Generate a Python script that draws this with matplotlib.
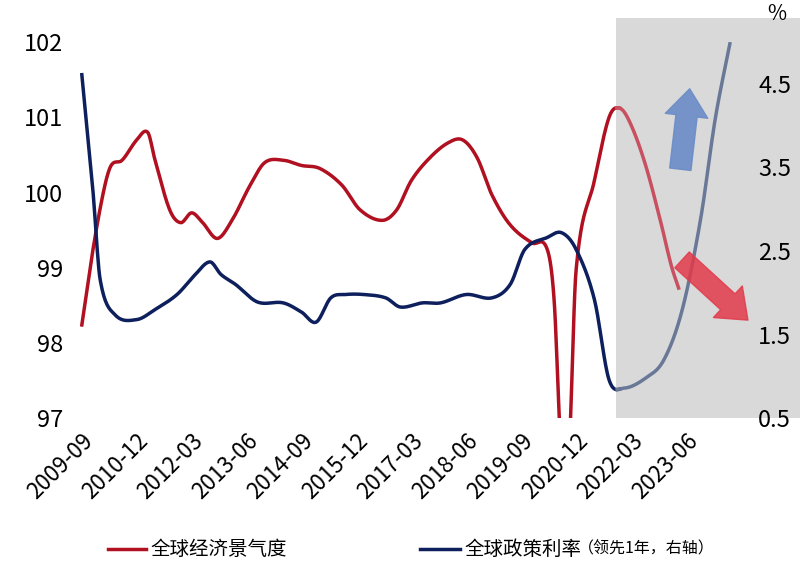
import matplotlib
matplotlib.use("Agg")
import matplotlib.pyplot as plt
from matplotlib.patches import Rectangle
import numpy as np

plt.rcParams['font.family'] = ['Noto Sans CJK SC', 'DejaVu Sans']

red_dates = ["2009-09","2009-12","2010-03","2010-05","2010-08","2010-12","2011-03","2011-05","2011-09","2011-12",
             "2012-03","2012-06","2012-10","2013-02","2013-07","2013-11","2014-04","2014-09","2015-02","2015-08",
             "2016-01","2016-07","2016-11","2017-03","2017-08","2018-01","2018-05","2018-09","2019-01","2019-06",
             "2019-12","2020-04","2020-06","2020-08","2020-10","2020-12","2021-05","2021-09","2021-12","2022-03",
             "2022-07","2022-11","2023-02","2023-04"]
red_vals = [98.24,99.23,100.03,100.36,100.43,100.7,100.8,100.43,99.77,99.6,
            99.73,99.6,99.39,99.63,100.1,100.4,100.43,100.36,100.32,100.1,
            99.77,99.63,99.77,100.16,100.46,100.66,100.7,100.46,99.97,99.57,
            99.33,99.26,98.57,96.5,96.5,98.97,100.16,101.0,101.12,100.9,
            100.36,99.63,99.03,98.73]
blue_dates = ["2009-09","2009-12","2010-02","2010-06","2010-12","2011-05","2011-11","2012-04","2012-08","2012-11",
              "2013-03","2013-09","2014-04","2014-09","2015-01","2015-05","2015-09","2016-02","2016-08","2016-12",
              "2017-06","2017-11","2018-06","2019-01","2019-06","2019-10","2020-04","2020-08","2020-12","2021-05",
              "2021-09","2022-01","2022-07","2022-12","2023-05","2023-10","2024-02","2024-06"]
blue_vals = [4.61,3.24,2.16,1.74,1.68,1.80,1.98,2.22,2.37,2.22,
             2.10,1.89,1.88,1.77,1.65,1.94,1.98,1.98,1.94,1.83,
             1.88,1.88,1.98,1.94,2.10,2.52,2.66,2.72,2.52,1.92,
             0.96,0.86,0.98,1.20,1.80,2.88,4.08,4.98]
tick_labels = ["2009-09","2010-12","2012-03","2013-06","2014-09","2015-12","2017-03","2018-06","2019-09","2020-12","2022-03","2023-06"]
shade_start = "2021-11"

def midx(s):
    y, m = map(int, s.split("-"))
    return (y - 2009) * 12 + (m - 9)

def smooth(dates, vals):
    x = np.array([midx(d) for d in dates], float)
    v = np.array(vals, float)
    xs = np.linspace(x[0], x[-1], 800)
    n = len(x)
    m = np.zeros(n)
    for i in range(n):
        if i == 0: m[i] = (v[1]-v[0])/(x[1]-x[0])
        elif i == n-1: m[i] = (v[-1]-v[-2])/(x[-1]-x[-2])
        else: m[i] = (v[i+1]-v[i-1])/(x[i+1]-x[i-1])
    ys = np.empty_like(xs)
    for j, t in enumerate(xs):
        i = min(np.searchsorted(x, t, side='right') - 1, n-2)
        h = x[i+1]-x[i]; u = (t-x[i])/h
        h00 = 2*u**3-3*u**2+1; h10 = u**3-2*u**2+u; h01 = -2*u**3+3*u**2; h11 = u**3-u**2
        ys[j] = h00*v[i]+h10*h*m[i]+h01*v[i+1]+h11*h*m[i+1]
    return xs, ys

fig = plt.figure(figsize=(8, 5.69), dpi=100)
ax = fig.add_axes([0.1, 0.265, 0.8375, 0.661])
ax2 = ax.twinx()
xs0 = midx(shade_start)
ax.add_patch(Rectangle((xs0, 0), 200, 1.065, transform=ax.get_xaxis_transform(),
                       facecolor='#d9d9d9', edgecolor='none', clip_on=False, zorder=0))

rx, ry = smooth(red_dates, red_vals)
bx, by = smooth(blue_dates, blue_vals)
ax.plot(rx[rx <= xs0+1], ry[rx <= xs0+1], color='#b01020', lw=2.5)
ax.plot(rx[rx >= xs0], ry[rx >= xs0], color='#c85060', lw=2.5)
ax2.plot(bx[bx <= xs0+1], by[bx <= xs0+1], color='#0d1f5c', lw=2.5)
ax2.plot(bx[bx >= xs0], by[bx >= xs0], color='#6a7898', lw=2.5)

ax.set_xlim(-0.5, 182.5)
ax.set_ylim(97, 102)
ax2.set_ylim(0.5, 5.0)
ax.set_yticks([97, 98, 99, 100, 101, 102])
ax2.set_yticks([0.5, 1.5, 2.5, 3.5, 4.5])
ax.set_xticks([midx(t) for t in tick_labels])
ax.set_xticklabels(tick_labels, rotation=45, ha='right', rotation_mode='anchor', fontsize=16)
ax.tick_params(axis='y', labelsize=17, length=0, pad=12)
ax2.tick_params(axis='y', labelsize=17, length=0, pad=6)
ax.tick_params(axis='x', length=0, pad=8)
for a in (ax, ax2):
    for s in a.spines.values():
        s.set_visible(False)
ax.patch.set_visible(False)
ax2.text(1.04, 1.06, "%", transform=ax2.transAxes, fontsize=15, ha='center')

# decorative arrows (figure pixels, origin bottom-left)
H = 569
fig.add_artist(matplotlib.patches.FancyArrowPatch((680, H-172), (690, H-86), transform=None,
               arrowstyle='simple,head_width=2.2,head_length=1.4,tail_width=1.1', mutation_scale=14,
               color='#6a8cc8', alpha=0.9))
fig.add_artist(matplotlib.patches.FancyArrowPatch((680, H-258), (750, H-322), transform=None,
               arrowstyle='simple,head_width=2.2,head_length=1.4,tail_width=1.1', mutation_scale=14,
               color='#e23a4a', alpha=0.85))

# legend
fig.add_artist(plt.Line2D([0.135, 0.182], [0.035, 0.035], color='#b01020', lw=2.5))
fig.text(0.188, 0.035, "全球经济景气度", fontsize=14, va='center')
fig.add_artist(plt.Line2D([0.525, 0.575], [0.035, 0.035], color='#0d1f5c', lw=2.5))
fig.text(0.58, 0.035, "全球政策利率", fontsize=14, va='center')
fig.text(0.722, 0.035, "（领先1年，右轴）", fontsize=11.5, va='center')

fig.savefig("out.png", dpi=100)
